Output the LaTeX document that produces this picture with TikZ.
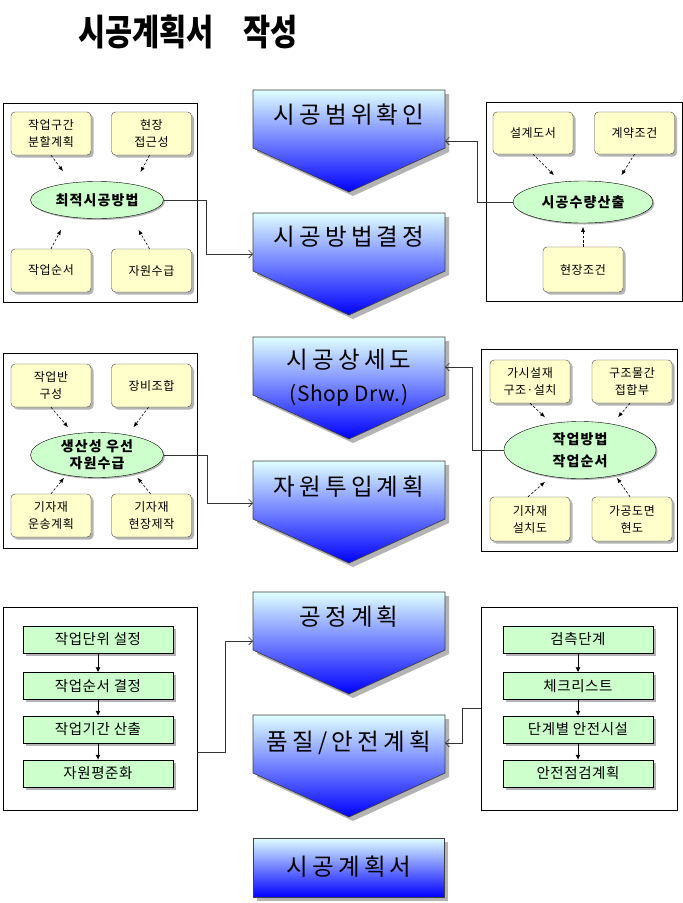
\documentclass[tikz,border=0pt]{standalone}
\usepackage{fontspec}
\usepackage{graphicx}
\setmainfont{Noto Sans CJK KR}
\newfontfamily\fsm{Noto Sans CJK KR}[LetterSpace=4]
\newfontfamily\fel{Noto Sans CJK KR}[LetterSpace=8]
\newfontfamily\fbg{Noto Sans CJK KR}[LetterSpace=18]
\usetikzlibrary{shapes.geometric,shadows,calc,arrows.meta}
\definecolor{yel}{HTML}{FFFFCC}
\definecolor{grn}{HTML}{CCFFCC}
\definecolor{topc}{HTML}{E0FFFF}
\definecolor{midc}{HTML}{A4B8FF}
\definecolor{botc}{HTML}{0000FF}
\definecolor{shd}{HTML}{B4B4B4}
\newcommand\pentshape[1]{%
  \fill[shd, transform canvas={xshift=4pt,yshift=-4pt}] (#1.north west) -- (#1.north east) -- (#1.south east) -- ($(#1.south)+(0,44)$) -- (#1.south west) -- cycle;
  \shade[top color=topc, middle color=midc, bottom color=botc, draw=black!75, line width=0.7pt] (#1.north west) -- (#1.north east) -- (#1.south east) -- ($(#1.south)+(0,44)$) -- (#1.south west) -- cycle;}
\begin{document}
\begin{tikzpicture}[x=1pt,y=-1pt,
  panel/.style={draw=black, fill=white, line width=0.7pt, inner sep=0pt},
  ybox/.style={draw=black!75, fill=yel, rounded corners=4pt, minimum width=80pt, minimum height=43pt, inner sep=0pt, align=center, font=\fsm\fontsize{12}{17}\selectfont, drop shadow={shadow xshift=2.5pt, shadow yshift=-2.5pt, fill=shd, opacity=1}},
  gbox/.style={draw=black, fill=grn, minimum width=150pt, minimum height=27pt, inner sep=0pt, font=\fsm\fontsize{14.5}{16}\selectfont, drop shadow={shadow xshift=2.5pt, shadow yshift=-2.5pt, fill=shd, opacity=1}},
  ell/.style={ellipse, draw=black, fill=grn, inner sep=0pt, align=center, font=\fel\bfseries\fontsize{14}{17}\selectfont, drop shadow={shadow xshift=1.5pt, shadow yshift=-1.5pt, fill=shd, opacity=1}},
  pentbox/.style={minimum width=192pt, minimum height=58pt, inner sep=0pt, outer sep=0pt},
  bigtxt/.style={font=\fbg\fontsize{23.5}{33}\selectfont, align=center, inner sep=0pt},
  dsh/.style={dash pattern=on 2.5pt off 1.8pt, line width=0.6pt, -{Latex[length=5pt,width=4pt]}},
  sarr/.style={line width=0.7pt, -{Latex[length=5pt,width=5pt]}},
  conn/.style={draw=black!80, line width=0.6pt, -{Straight Barb[length=4pt,width=8pt]}},
]
\useasboundingbox (0,0) rectangle (683,903);
\fill[white] (0,0) rectangle (683,903);

% title
\node[font=\bfseries\fontsize{29.5}{30}\selectfont, inner sep=0pt] (title) at (188,32) {\scalebox{1}[1.22]{시공계획서\hspace{30pt}작성}};

% center column
\node[pentbox] (s1) at (349,119) {};
\node[pentbox] (s2) at (349,242) {};
\node[pentbox] (s3) at (349,366) {};
\node[pentbox] (s4) at (349,490) {};
\node[pentbox] (s5) at (349,621) {};
\node[pentbox] (s6) at (349,744) {};
\pentshape{s1}
\pentshape{s2}
\pentshape{s3}
\pentshape{s4}
\pentshape{s5}
\pentshape{s6}
\node[minimum width=191pt, minimum height=59pt, inner sep=0pt, draw=black!75, line width=0.7pt, top color=topc, bottom color=botc, drop shadow={shadow xshift=4pt, shadow yshift=-4pt, fill=shd, opacity=1}] (s7) at (348.5,867.5) {};
\node[bigtxt] (t1) at (349,115) {시공범위확인};
\node[bigtxt] (t2) at (349,237) {시공방법결정};
\node[bigtxt] (t3) at (349,378) {시공상세도\\{\fontspec{Noto Sans CJK KR}[LetterSpace=2]\fontsize{21}{33}\selectfont(Shop Drw.)}};
\node[bigtxt] (t4) at (349,487) {자원투입계획};
\node[bigtxt] (t5) at (349,617) {공정계획};
\node[bigtxt] (t6) at (349,743) {품질/안전계획};
\node[bigtxt] (t7) at (349,867) {시공계획서};

% panel 1 left
\node[panel, minimum width=194pt, minimum height=199pt] (P1) at (100,202.5) {};
\node[ybox] (A) at (51,133.5) {작업구간\\분할계획};
\node[ybox] (B) at (151.5,133.5) {현장\\접근성};
\node[ybox] (C) at (51,270.5) {작업순서};
\node[ybox] (D) at (151.5,270.5) {자원수급};
\node[ell, minimum width=133pt, minimum height=37pt] (E1) at (97,200) {최적시공방법};
\draw[dsh] (A.south) -- ++(12,16);
\draw[dsh] ([xshift=-2pt]B.south) -- ++(-9,17);
\draw[dsh] (C.north) -- ++(10,-19);
\draw[dsh] ([xshift=-2pt]D.north) -- ++(-11,-19);

% panel 1 right
\node[panel, minimum width=196pt, minimum height=199pt] (P2) at (584,201.5) {};
\node[ybox, minimum height=42pt] (b1) at (533,133) {설계도서};
\node[ybox, minimum height=42pt] (b2) at (634.5,133) {계약조건};
\node[ybox, minimum height=45pt] (b3) at (583,269.5) {현장조건};
\node[ell, minimum width=140pt, minimum height=42pt] (E2) at (583,202) {시공수량산출};
\draw[dsh] (b1.south) -- ++(21,21);
\draw[dsh] (b2.south) -- ++(-13,21);
\draw[dsh] (b3.north) -- ++(0,-20);

% panel 2 left
\node[panel, minimum width=194pt, minimum height=195pt] (P3) at (100,450.5) {};
\node[ybox] (c1) at (51,385.5) {작업반\\구성};
\node[ybox] (c2) at (151.5,385.5) {장비조합};
\node[ybox] (c3) at (51,515.5) {기자재\\운송계획};
\node[ybox] (c4) at (151.5,515.5) {기자재\\현장제작};
\node[ell, minimum width=133pt, minimum height=45pt] (E3) at (97,455) {생산성 우선\\자원수급};
\draw[dsh] (c1.south) -- ++(17,20);
\draw[dsh] ([xshift=-3pt]c2.south) -- ++(-15,20);
\draw[dsh] (c3.north) -- ++(13,-16);
\draw[dsh] ([xshift=-1pt]c4.north) -- ++(-13,-16);

% panel 2 right
\node[panel, minimum width=196pt, minimum height=202pt] (P4) at (579,450) {};
\node[ybox] (d1) at (530,381.5) {가시설재\\구조·설치};
\node[ybox] (d2) at (632,381.5) {구조물간\\접합부};
\node[ybox, minimum height=44pt] (d3) at (530,519) {기자재\\설치도};
\node[ybox, minimum height=44pt] (d4) at (632,519) {가공도면\\현도};
\node[ell, minimum width=152pt, minimum height=57pt, font=\fel\bfseries\fontsize{14}{22}\selectfont] (E4) at (580,450) {작업방법\\작업순서};
\draw[dsh] (d1.south) -- ++(15,14);
\draw[dsh] ([xshift=-2pt]d2.south) -- ++(-12,14);
\draw[dsh] ([xshift=-2pt]d3.north) -- ++(17,-15);
\draw[dsh] ([xshift=-2pt]d4.north) -- ++(-13,-19);

% panel 3 left
\node[panel, minimum width=194pt, minimum height=203pt] (P5) at (100,708.5) {};
\node[gbox] (g1) at (98,639.5) {작업단위 설정};
\node[gbox] (g2) at (98,686) {작업순서 결정};
\node[gbox] (g3) at (98,729.5) {작업기간 산출};
\node[gbox] (g4) at (98,773.5) {자원평준화};
\draw[sarr] (g1.south) -- (g2.north);
\draw[sarr] (g2.south) -- (g3.north);
\draw[sarr] (g3.south) -- (g4.north);

% panel 3 right
\node[panel, minimum width=196pt, minimum height=203pt] (P6) at (579,708.5) {};
\node[gbox] (h1) at (578,639.5) {검측단계};
\node[gbox] (h2) at (578,686) {체크리스트};
\node[gbox] (h3) at (578,729.5) {단계별 안전시설};
\node[gbox] (h4) at (578,773.5) {안전점검계획};
\draw[sarr] (h1.south) -- (h2.north);
\draw[sarr] (h2.south) -- (h3.north);
\draw[sarr] (h3.south) -- (h4.north);

% connectors to center column
\draw[conn] (E1.east) -- ++(43,0) |- ($(s2.north west)+(0,41)$);
\draw[conn] (E2.west) -- ++(-36,0) |- ($(s1.north east)+(0,51)$);
\draw[conn] (E3.east) -- ++(44,0) |- ($(s4.north west)+(0,42)$);
\draw[conn] (E4.west) -- ++(-32,0) |- ($(s3.north east)+(0,30)$);
\draw[conn] ($(P5.north east)+(0,146)$) -- ++(28,0) |- ($(s5.north west)+(0,49)$);
\draw[conn] ($(P6.north west)+(0,102)$) -- ++(-18,0) |- ($(s6.north east)+(0,28)$);
\end{tikzpicture}
\end{document}
